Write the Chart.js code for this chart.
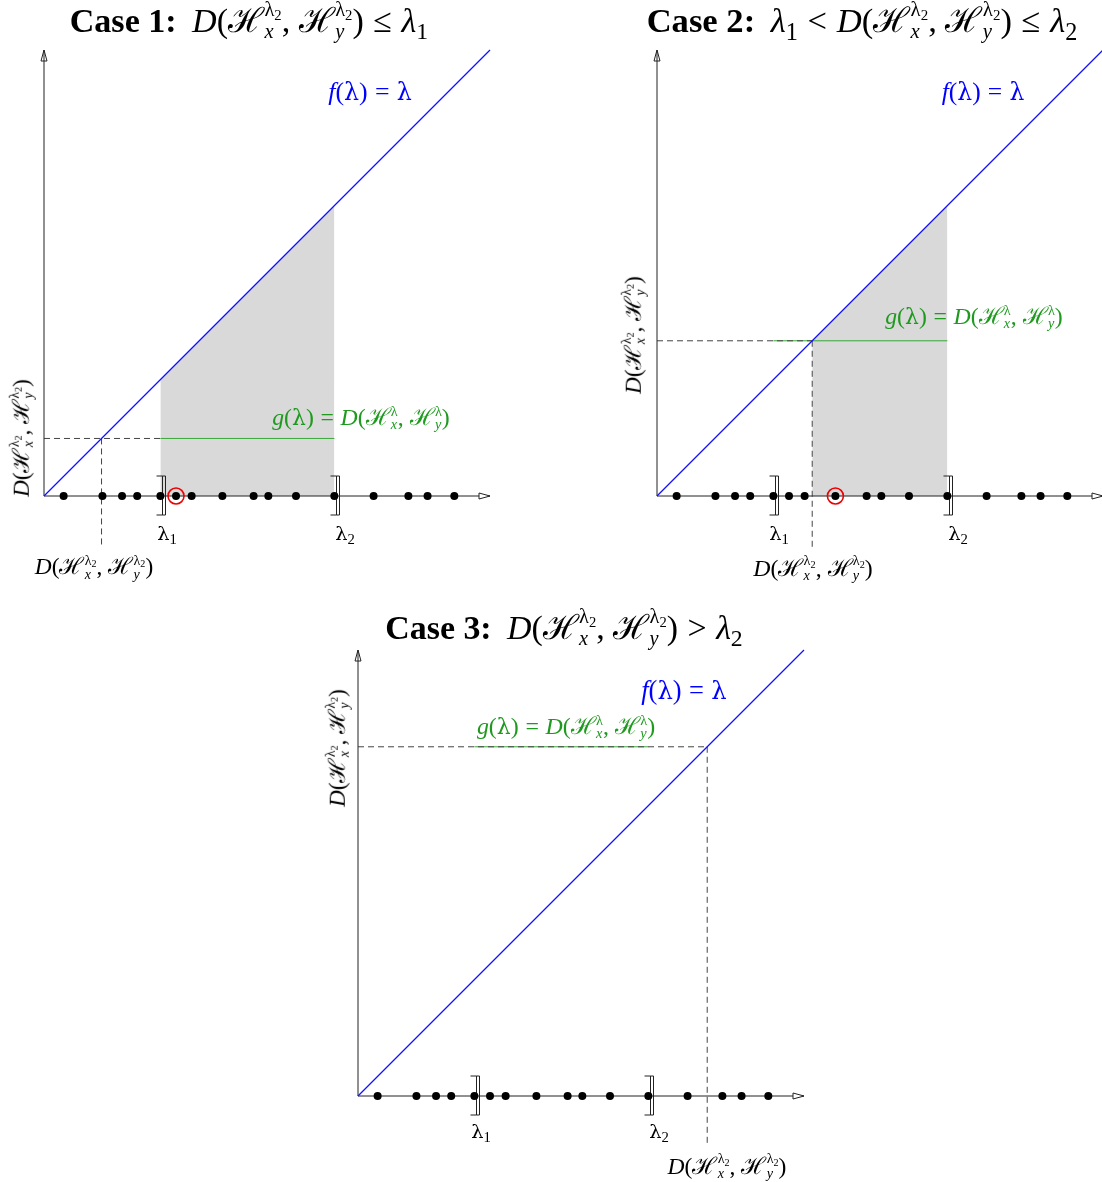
<!DOCTYPE html>
<html>
<head>
<meta charset="utf-8">
<script src="https://cdn.jsdelivr.net/npm/chart.js@4.4.1/dist/chart.umd.min.js"></script>
<style>
  html,body{margin:0;padding:0;background:#fff;}
  body{width:1102px;height:1182px;overflow:hidden;position:relative;font-family:"Liberation Serif","DejaVu Serif",serif;color:#000;}
  .wrap{position:absolute;width:500px;height:560px;}
  .wrap canvas{position:absolute;left:0;top:0;}
  .lbl{position:absolute;white-space:nowrap;line-height:1;transform:translate(-50%,-50%);font-size:20px;}
  .rot{transform:translate(-50%,-50%) rotate(-90deg);}
  .title b{font-weight:bold;margin-right:0.45em;font-style:normal;}
  .blue{color:#0000ff;}
  .green{color:#1e9a1e;}
  i{font-style:italic;}
  .rel{margin:0 0.28em;}
  .lam{font-family:"DejaVu Serif",serif;font-size:0.92em;}
  .ss{display:inline-block;vertical-align:-0.3em;font-size:0.6em;line-height:0.92;text-align:left;margin-left:0.02em;}
  .ss > span{display:block;}
  .s2{font-size:0.72em;vertical-align:-0.25em;}
  .sub{font-size:0.7em;vertical-align:-0.3em;}
</style>
</head>
<body>
<div id="w0" class="wrap" style="left:0px;top:40px;"><canvas id="c0" width="500" height="560"></canvas></div>
<div id="w1" class="wrap" style="left:613px;top:40px;"><canvas id="c1" width="500" height="560"></canvas></div>
<div id="w2" class="wrap" style="left:314px;top:640px;"><canvas id="c2" width="500" height="560"></canvas></div>
<div id="labels"></div>
<script>
// ---------- data ----------
const dots = [4.4, 13.1, 17.5, 20.9, 26.1, 29.6, 33.1, 40.0, 47.0, 50.3, 56.5, 65.1, 73.9, 81.7, 86.0, 92.0];
const lambdaValues = [26.1, 65.1];          // λ1, λ2
const dLevels = [12.9, 34.8, 78.3];         // D(Hx^λ2, Hy^λ2) for case 1, 2, 3
const redCircle = [29.6, 40.0, null];       // highlighted point per case
const dropTo = [-11, -11.4, -10.8];         // where the vertical dashed guide ends
const caseNames = ["Case 1:", "Case 2:", "Case 3:"];

const lambda1 = lambdaValues[0], lambda2 = lambdaValues[1];

// ---------- plugin: arrowheads + λ brackets ----------
const decor = {
  id: 'decor',
  afterDatasetDraw(chart, args) {
    const ds = chart.data.datasets[args.index];
    if (ds.key !== 'xaxis') return;
    const ctx = chart.ctx, xs = chart.scales.x, ys = chart.scales.y;
    const ox = xs.getPixelForValue(0), oy = ys.getPixelForValue(0);
    const xt = xs.getPixelForValue(100), yt = ys.getPixelForValue(100);
    ctx.save();
    ctx.setLineDash([]);
    ctx.strokeStyle = '#222'; ctx.fillStyle = '#fff'; ctx.lineWidth = 1;
    ctx.beginPath();
    ctx.moveTo(xt, oy); ctx.lineTo(xt - 11, oy - 3); ctx.lineTo(xt - 11, oy + 3); ctx.closePath();
    ctx.fill(); ctx.stroke();
    ctx.beginPath();
    ctx.moveTo(ox, yt); ctx.lineTo(ox - 3, yt + 11); ctx.lineTo(ox + 3, yt + 11); ctx.closePath();
    ctx.fill(); ctx.stroke();
    lambdaValues.forEach(v => {
      const px = Math.round(xs.getPixelForValue(v)) + 0.5;
      const top = oy - 20, bot = oy + 19;
      ctx.beginPath();
      ctx.moveTo(px - 4, top); ctx.lineTo(px + 2, top); ctx.lineTo(px + 2, bot); ctx.lineTo(px - 4, bot);
      ctx.stroke();
      ctx.beginPath();
      ctx.moveTo(px + 2, top); ctx.lineTo(px + 5, top); ctx.lineTo(px + 5, bot); ctx.lineTo(px + 2, bot);
      ctx.stroke();
    });
    ctx.restore();
  }
};

function makeChart(k) {
  const D = dLevels[k];
  const datasets = [];
  const line = (key, data, color, extra) => Object.assign({
    key, data, type: 'line', showLine: true, borderColor: color, backgroundColor: color, borderWidth: 1,
    pointRadius: 0, fill: false, tension: 0, clip: false, borderDash: []
  }, extra || {});

  if (redCircle[k] !== null) {
    datasets.push({ key: 'red', type: 'scatter', data: [{ x: redCircle[k], y: 0 }], pointRadius: 8,
      pointBackgroundColor: 'rgba(0,0,0,0)', pointBorderColor: '#ee0000', pointBorderWidth: 1.6, clip: false, order: 0 });
  }
  datasets.push({ key: 'dots', type: 'scatter', data: dots.map(x => ({ x, y: 0 })), pointRadius: 4,
    pointBackgroundColor: '#000', pointBorderColor: '#000', pointBorderWidth: 0, clip: false, order: 1 });
  datasets.push(line('f', [{ x: 0, y: 0 }, { x: 100, y: 100 }], '#1010ff', { order: 1.5, borderWidth: 1.3 }));
  datasets.push(line('yaxis', [{ x: 0, y: 0 }, { x: 0, y: 100 }], '#222', { order: 2 }));
  datasets.push(line('xaxis', [{ x: 0, y: 0 }, { x: 100, y: 0 }], '#222', { order: 3 }));
  datasets.push(line('dashH', [{ x: 0, y: D }, { x: Math.max(lambda1, D), y: D }], '#444', { borderDash: [6, 4], order: 4 }));
  datasets.push(line('dashV', [{ x: D, y: D }, { x: D, y: dropTo[k] }], '#444', { borderDash: [6, 4], order: 4 }));
  datasets.push(line('g', [{ x: lambda1, y: D }, { x: lambda2, y: D }], '#3aa83a', { order: 5 }));
  if (D < lambda2) {
    const s = Math.max(lambda1, D);
    datasets.push(line('shade', [{ x: s, y: s }, { x: lambda2, y: lambda2 }], 'rgba(0,0,0,0)',
      { borderWidth: 0, fill: 'origin', backgroundColor: '#d9d9d9', order: 9 }));
  }

  return new Chart(document.getElementById('c' + k), {
    type: 'scatter',
    data: { datasets },
    options: {
      responsive: false, animation: false, devicePixelRatio: 1, events: [],
      layout: { padding: { left: 44, right: 10, top: 10, bottom: 14.8 } },
      scales: {
        x: { type: 'linear', min: 0, max: 100, display: false },
        y: { type: 'linear', min: -20, max: 100, display: false }
      },
      plugins: { legend: { display: false }, tooltip: { enabled: false } }
    },
    plugins: [decor]
  });
}
[0, 1, 2].forEach(makeChart);

// ---------- text ----------
const Hs = (sub, sup) => `ℋ<span class="ss"><span>${sup}</span><span><i>${sub}</i></span></span>`;
const lamU = `<span class="lam">λ</span>`;
const lam2 = `λ<span class="s2">2</span>`;
const Dl2 = `<i>D</i>(${Hs('x', lam2)}, ${Hs('y', lam2)})`;
const Dl = `<i>D</i>(${Hs('x', 'λ')}, ${Hs('y', 'λ')})`;
const L = (n) => `<i>λ</i><span class="sub">${n}</span>`;
const R = (s) => `<span class="rel">${s}</span>`;
const titles = [
  `<b>${caseNames[0]}</b>${Dl2}${R('≤')}${L(1)}`,
  `<b>${caseNames[1]}</b>${L(1)}${R('&lt;')}${Dl2}${R('≤')}${L(2)}`,
  `<b>${caseNames[2]}</b>${Dl2}${R('&gt;')}${L(2)}`
];
const fTxt = `<i>f</i>(${lamU})${R('=')}${lamU}`;
const gTxt = `<i>g</i>(${lamU})${R('=')}${Dl}`;
const lamLbl = (n) => `${lamU}<span class="sub">${n}</span>`;

// [html, class, centerX, centerY, targetWidth]
const labelSpecs = [
  [titles[0], 'title', 249, 22, 358],
  [titles[1], 'title', 862, 22, 429],
  [titles[2], 'title', 564, 629, 356],
  [fTxt, 'blue', 370, 92, 84],
  [fTxt, 'blue', 983, 92, 83],
  [fTxt, 'blue', 684, 690, 86],
  [gTxt, 'green', 361, 418, 177],
  [gTxt, 'green', 974, 317, 177],
  [gTxt, 'green', 566, 727, 178],
  [lamLbl(1), '', 167, 535, 20], [lamLbl(2), '', 345, 535, 20],
  [lamLbl(1), '', 779, 535, 20], [lamLbl(2), '', 958, 535, 20],
  [lamLbl(1), '', 481, 1133, 20], [lamLbl(2), '', 659, 1133, 20],
  [Dl2, '', 94, 568, 118],
  [Dl2, '', 813, 568, 120],
  [Dl2, '', 727, 1166, 119],
  [Dl2, 'rot', 22, 438, 117],
  [Dl2, 'rot', 634, 335, 117],
  [Dl2, 'rot', 338, 748, 117]
];
const host = document.getElementById('labels');
labelSpecs.forEach(([html, cls, cx, cy, tw]) => {
  const el = document.createElement('div');
  el.className = 'lbl ' + cls;
  el.style.left = cx + 'px';
  el.style.top = cy + 'px';
  el.innerHTML = html;
  host.appendChild(el);
  const w = el.offsetWidth;
  el.style.fontSize = (20 * tw / w).toFixed(2) + 'px';
});
</script>
</body>
</html>
